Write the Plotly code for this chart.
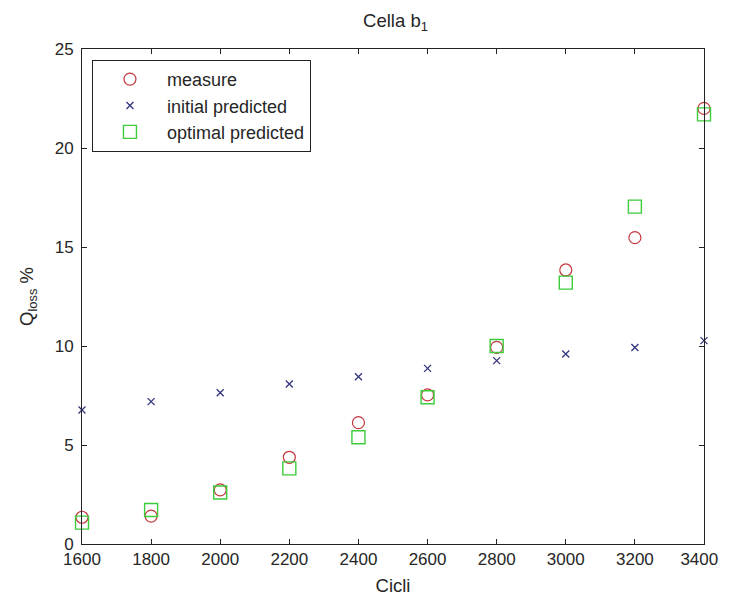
import plotly.graph_objects as go

cicli = [1600, 1800, 2000, 2200, 2400, 2600, 2800, 3000, 3200, 3400]
measure = [1.35, 1.41, 2.73, 4.38, 6.13, 7.53, 9.93, 13.84, 15.47, 22.0]
initial_predicted = [6.77, 7.19, 7.64, 8.08, 8.45, 8.87, 9.26, 9.6, 9.92, 10.27]
optimal_predicted = [1.08, 1.72, 2.6, 3.82, 5.39, 7.41, 10.0, 13.2, 17.04, 21.7]

x_ticks = [1600, 1800, 2000, 2200, 2400, 2600, 2800, 3000, 3200, 3400]
y_ticks = [0, 5, 10, 15, 20, 25]

font_family = "Liberation Sans, Arial, sans-serif"
FS = 18
TFS = 17
TXT = "#262626"

# The page body keeps its default 8px margin; margins below compensate for it
W, H = 732, 599
ML, MT = 74, 41
PW, PH = 627, 495

# last x label padded so it stays inside the visible page
x_ticktext = [str(v) for v in x_ticks]
x_ticktext[-1] = x_ticktext[-1] + "\u00a0\u00a0"

fig = go.Figure()
fig.add_trace(go.Scatter(
    x=cicli, y=measure, mode="markers", name="measure",
    marker=dict(symbol="circle-open", size=12, color="#c4383f", line=dict(width=1.2)),
    cliponaxis=False,
))
fig.add_trace(go.Scatter(
    x=cicli, y=initial_predicted, mode="markers", name="initial predicted",
    marker=dict(symbol="x-thin-open", size=7, color="#34347e", line=dict(width=1.3, color="#34347e")),
    cliponaxis=False,
))
fig.add_trace(go.Scatter(
    x=cicli, y=optimal_predicted, mode="markers", name="optimal predicted",
    marker=dict(symbol="square-open", size=13, color="#3ccc3c", line=dict(width=1.4)),
    cliponaxis=False,
))

fig.update_layout(
    width=W, height=H,
    margin=dict(l=ML, r=W - ML - PW, t=MT, b=H - MT - PH, pad=0),
    paper_bgcolor="white", plot_bgcolor="white",
    font=dict(family=font_family, size=FS, color=TXT),
    title=dict(text="Cella b<sub>1</sub>", x=(ML + PW / 2) / W, xref="container", xanchor="center",
               y=1 - 6 / H, yref="container", yanchor="top",
               font=dict(size=18.5, family=font_family, color=TXT)),
    legend=dict(
        x=0.016, y=0.978, xanchor="left", yanchor="top",
        bgcolor="white", bordercolor="#222", borderwidth=1,
        font=dict(size=FS, family=font_family, color=TXT),
        itemwidth=64, tracegroupgap=0,
    ),
    showlegend=True,
)
fig.update_xaxes(
    range=[1600, 3400], tickvals=x_ticks, ticktext=x_ticktext,
    ticks="inside", ticklen=5, tickcolor="#222", showline=True, linecolor="#222",
    linewidth=1, mirror="ticks", showgrid=False, zeroline=False,
    title=dict(text="Cicli", standoff=10, font=dict(size=18.5, family=font_family)),
    tickfont=dict(size=TFS, family=font_family),
)
fig.update_yaxes(
    range=[0, 25], tickvals=y_ticks, ticktext=[str(v) for v in y_ticks],
    ticks="inside", ticklen=5, tickcolor="#222", showline=True, linecolor="#222",
    linewidth=1, mirror="ticks", showgrid=False, zeroline=False,
    ticklabelstandoff=4,
    title=dict(text="Q<sub>loss</sub> %", standoff=16, font=dict(size=18.5, family=font_family)),
    tickfont=dict(size=TFS, family=font_family),
)

fig.write_html("out.html", config={"displayModeBar": False})
